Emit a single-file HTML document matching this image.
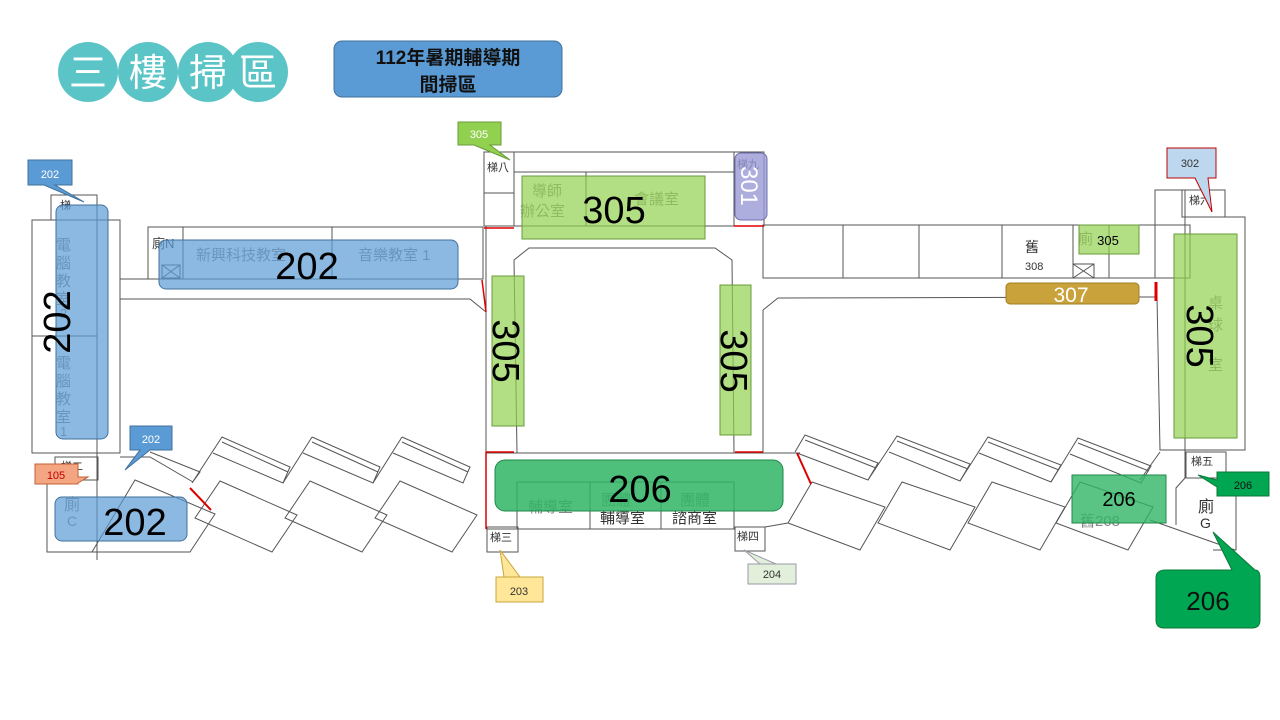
<!DOCTYPE html>
<html><head><meta charset="utf-8"><style>
body{margin:0;background:#fff;}
svg{display:block;font-family:"Liberation Sans","Noto Sans CJK TC",sans-serif;}
</style></head><body>
<svg width="1280" height="720" viewBox="0 0 1280 720" xmlns="http://www.w3.org/2000/svg">
<g fill="#5bc4c6">
<circle cx="88" cy="72" r="30"/><circle cx="148" cy="72" r="30"/><circle cx="208" cy="72" r="30"/><circle cx="258" cy="72" r="30"/>
</g>
<g fill="#fff" font-size="38" text-anchor="middle">
<text x="88" y="86">三</text><text x="148" y="86">樓</text><text x="208" y="86">掃</text><text x="258" y="86">區</text>
</g>
<rect x="334" y="41" width="228" height="56" rx="8" fill="#5b9bd5" stroke="#41719c"/>
<text x="448" y="64" font-size="19" font-weight="bold" text-anchor="middle" fill="#111">112年暑期輔導期</text>
<text x="448" y="91" font-size="19" font-weight="bold" text-anchor="middle" fill="#111">間掃區</text>

<g fill="none" stroke="#555" stroke-width="1">
<rect x="32" y="220" width="88" height="233" fill="#fff"/>
<rect x="51" y="195" width="46" height="25"/>
<line x1="32" y1="336" x2="97" y2="336"/>
<line x1="97" y1="195" x2="97" y2="560"/>
<polyline points="120,279 148,279"/>
<rect x="148" y="227" width="335" height="52"/>
<line x1="183" y1="227" x2="183" y2="279"/>
<line x1="332" y1="227" x2="332" y2="279"/>
<polyline points="120,299 470,299 486,312"/>
<polyline points="120,453 120,299"/>
<rect x="55" y="457" width="43" height="23"/>
<polyline points="47,480 47,552 92,552"/>
<polyline points="120,457 150,457 193,482"/>
<polyline points="150,452 200,472 192,483 222,437 290,467 283,483 213,453"/>
<polyline points="222,442 288,472"/>
<polyline points="312,437 380,467 373,483 303,453"/>
<polyline points="283,483 312,437"/>
<polyline points="312,442 378,472"/>
<polyline points="402,437 470,467 463,483 393,453"/>
<polyline points="373,483 402,437"/>
<polyline points="402,442 468,472"/>
<polygon points="135,480 215,514 190,552 92,552"/>
<polygon points="220,481 297,515 272,552 195,518"/>
<polygon points="310,481 387,515 362,552 285,518"/>
<polygon points="400,481 477,515 452,552 375,518"/>
<rect x="484" y="152" width="30" height="41"/>
<rect x="484" y="193" width="30" height="33"/>
<rect x="514" y="152" width="220" height="74"/>
<line x1="514" y1="172" x2="734" y2="172"/>
<line x1="586" y1="172" x2="586" y2="226"/>
<rect x="734" y="152" width="30" height="74"/>
<line x1="486" y1="226" x2="486" y2="527"/>
<polygon points="514,260 529,248 715,248 732,260 734,453 517,453"/>
<line x1="486" y1="453" x2="800" y2="453"/>
<rect x="517" y="482" width="217" height="47"/>
<line x1="590" y1="482" x2="590" y2="529"/>
<line x1="661" y1="482" x2="661" y2="529"/>
<line x1="486" y1="529" x2="517" y2="529"/>
<rect x="487" y="527" width="31" height="25"/>
<rect x="735" y="527" width="30" height="24"/>
<rect x="763" y="225" width="427" height="53"/>
<line x1="843" y1="225" x2="843" y2="278"/>
<line x1="919" y1="225" x2="919" y2="278"/>
<line x1="1002" y1="225" x2="1002" y2="278"/>
<line x1="1073" y1="225" x2="1073" y2="278"/>
<line x1="1109" y1="225" x2="1109" y2="278"/>
<rect x="1073" y="264" width="21" height="14"/>
<polyline points="763,310 778,298 1157,297"/>
<line x1="763" y1="310" x2="763" y2="453"/>
<line x1="763" y1="226" x2="763" y2="278"/>
<polyline points="1155,278 1155,190 1182,190"/>
<polyline points="1157,297 1160,450 1245,450 1245,217 1182,217"/>
<rect x="1182" y="190" width="43" height="27"/>
<line x1="1185" y1="190" x2="1185" y2="478"/>
<rect x="1186" y="452" width="40" height="26"/>
<polyline points="1185,478 1176,488 1176,525"/>
<polyline points="1226,478 1236,478 1236,550 1213,550"/>
<line x1="1160" y1="452" x2="1140" y2="480"/>
<polyline points="795,452 805,435 878,463 868,480 797,453"/>
<polyline points="805,440 876,468"/>
<polyline points="868,480 897,436 970,464 960,481 889,452"/>
<polyline points="897,441 968,469"/>
<polyline points="960,481 988,437 1061,465 1051,482 979,453"/>
<polyline points="988,442 1059,470"/>
<polyline points="1051,482 1078,438 1151,466 1141,483 1070,454"/>
<polyline points="1078,443 1149,471"/>
<polygon points="812,482 885,507 860,550 788,523"/>
<polygon points="902,482 975,507 950,550 878,523"/>
<polygon points="992,482 1065,507 1040,550 968,523"/>
<polygon points="1080,482 1153,507 1128,550 1056,523"/>
<line x1="1150" y1="520" x2="1235" y2="550"/>
<line x1="765" y1="527" x2="788" y2="523"/>
</g>
<g stroke="#555" fill="none"><rect x="162" y="265" width="18" height="13"/><path d="M162 265L180 278M180 265L162 278"/><path d="M1073 264L1094 278M1094 264L1073 278"/></g>
<g stroke="#d00" stroke-width="1.5" fill="none">
<line x1="484" y1="228" x2="514" y2="228"/><line x1="734" y1="226" x2="764" y2="226"/>
<polyline points="482,280 486,312"/>
<line x1="486" y1="452" x2="486" y2="529"/><line x1="486" y1="452" x2="514" y2="452"/>
<line x1="735" y1="452" x2="763" y2="452"/>
<line x1="190" y1="488" x2="211" y2="510" stroke-width="2"/>
<line x1="797" y1="453" x2="811" y2="484" stroke-width="2"/>
<line x1="1156" y1="282" x2="1156" y2="301" stroke-width="3"/>
</g>
<g fill="#888" font-size="15">
<text x="152" y="248" fill="#444" font-size="13">廁N</text>
<text x="196" y="260">新興科技教室</text><text x="358" y="260">音樂教室 1</text>
<text x="56" y="250">電</text><text x="56" y="268">腦</text><text x="56" y="286">教</text><text x="56" y="304">室</text><text x="60" y="318" font-size="13">2</text>
<text x="56" y="368">電</text><text x="56" y="386">腦</text><text x="56" y="404">教</text><text x="56" y="422">室</text><text x="60" y="436" font-size="13">1</text>
<text x="64" y="510" font-size="16">廁</text><text x="67" y="526" font-size="14">C</text>
<text x="532" y="196">導師</text><text x="520" y="216">辦公室</text><text x="634" y="204">會議室</text>
<text x="528" y="512">輔導室</text><text x="601" y="505">團體</text><text x="600" y="523" fill="#333">輔導室</text>
<text x="680" y="505">團體</text><text x="672" y="523" fill="#333">諮商室</text>
<text x="1208" y="308">桌</text><text x="1208" y="330">球</text><text x="1208" y="370">室</text>
<text x="1078" y="244">廁</text>
<text x="1080" y="526">舊208</text>
</g>
<g fill="#333" font-size="11">
<text x="60" y="209">梯一</text><text x="61" y="470">梯二</text><text x="487" y="171">梯八</text>
<text x="490" y="541">梯三</text><text x="737" y="540">梯四</text><text x="1189" y="204">梯六</text><text x="1191" y="465">梯五</text>
<text x="737" y="168">梯九</text>
<text x="1025" y="252" font-size="14">舊</text><text x="1025" y="270" font-size="11">308</text>
<text x="1198" y="512" font-size="16">廁</text><text x="1200" y="528" font-size="14">G</text>
</g>
<g>
<rect x="56" y="205" width="52" height="234" rx="7" fill="#5b9bd5" fill-opacity="0.7" stroke="#41719c"/>
<rect x="159" y="240" width="299" height="49" rx="7" fill="#5b9bd5" fill-opacity="0.7" stroke="#41719c"/>
<rect x="55" y="497" width="132" height="44" rx="7" fill="#5b9bd5" fill-opacity="0.7" stroke="#41719c"/>
<rect x="522" y="176" width="183" height="63" fill="#92d050" fill-opacity="0.7" stroke="#6a9b3a"/>
<rect x="492" y="276" width="32" height="150" fill="#92d050" fill-opacity="0.7" stroke="#6a9b3a"/>
<rect x="720" y="285" width="31" height="150" fill="#92d050" fill-opacity="0.7" stroke="#6a9b3a"/>
<rect x="1174" y="234" width="63" height="204" fill="#92d050" fill-opacity="0.7" stroke="#6a9b3a"/>
<rect x="1079" y="225" width="60" height="29" fill="#92d050" fill-opacity="0.7" stroke="#6a9b3a"/>
<rect x="735" y="153" width="32" height="67" rx="6" fill="#9a9ad6" fill-opacity="0.8" stroke="#7070b0"/>
<rect x="1006" y="283" width="133" height="21" rx="4" fill="#c9a23b" stroke="#a07f22"/>
<rect x="495" y="460" width="288" height="51" rx="10" fill="#2fb565" fill-opacity="0.85" stroke="#1e8a4a"/>
<rect x="1072" y="475" width="94" height="48" fill="#2fb565" fill-opacity="0.8" stroke="#1e8a4a"/>
</g>
<g fill="#000" text-anchor="middle">
<text x="307" y="279" font-size="38">202</text>
<text x="135" y="535" font-size="38">202</text>
<text transform="translate(70,322) rotate(-90)" font-size="38">202</text>
<text x="614" y="223" font-size="38">305</text>
<text transform="translate(493,351) rotate(90)" font-size="38">305</text>
<text transform="translate(721,361) rotate(90)" font-size="38">305</text>
<text transform="translate(1187,336) rotate(90)" font-size="38">305</text>
<text x="1108" y="245" font-size="13">305</text>
<text transform="translate(741,186) rotate(90)" font-size="24" fill="#fff">301</text>
<text x="1071" y="302" font-size="21" fill="#fff">307</text>
<text x="640" y="502" font-size="38">206</text>
<text x="1119" y="506" font-size="20">206</text>
</g>
<g font-size="11" text-anchor="middle">
<path d="M28 160H72V185H55L84 202L44 185H28Z" fill="#5b9bd5" stroke="#41719c"/><text x="50" y="178" fill="#fff">202</text>
<path d="M130 426H172V450H150L125 470L140 450H130Z" fill="#5b9bd5" stroke="#41719c"/><text x="151" y="443" fill="#fff">202</text>
<path d="M35 464H78V477H88L78 483V484H35Z" fill="#f4a582" stroke="#c06030"/><text x="56" y="479" fill="#c00000">105</text>
<path d="M458 122H501V145H490L510 160L474 145H458Z" fill="#92d050" stroke="#6a9b3a"/><text x="479" y="138" fill="#fff">305</text>
<path d="M1167 148H1216V178H1208L1212 212L1195 178H1167Z" fill="#bdd7ee" stroke="#c00000"/><text x="1190" y="167" fill="#333">302</text>
<path d="M496 577H543V602H496Z M504 577L500 550L520 577Z" fill="#ffe699" stroke="#c9a63a"/><text x="519" y="595" fill="#333">203</text>
<path d="M748 564H796V584H748Z M760 564L744 550L776 564Z" fill="#e2efda" stroke="#99a"/><text x="772" y="578" fill="#333">204</text>
<path d="M1217 472H1269V496H1217V487L1198 475L1217 480Z" fill="#00a651" stroke="#0a7a3a"/><text x="1243" y="489" fill="#111">206</text>
<path d="M1166 570H1232L1213 532L1255 570Q1260 570 1260 578V620Q1260 628 1252 628H1164Q1156 628 1156 620V578Q1156 570 1166 570Z" fill="#00a651" stroke="#0a7a3a"/><text x="1208" y="610" font-size="26" fill="#111">206</text>
</g>
</svg>
</body></html>
